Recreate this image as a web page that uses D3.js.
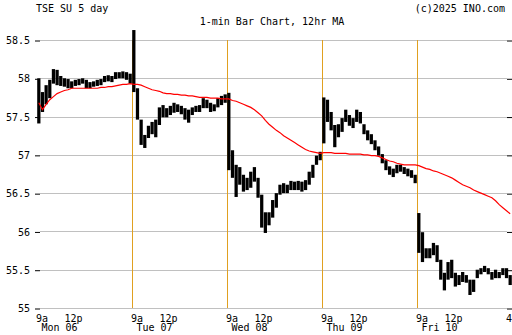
<!DOCTYPE html>
<html>
<head>
<meta charset="utf-8">
<script src="https://cdn.jsdelivr.net/npm/d3@7"></script>
<style>
  body { margin: 0; background: #fff; }
  svg { display: block; }
  text { font-family: "DejaVu Sans Mono", monospace; font-size: 10px; fill: #000; }
</style>
</head>
<body>
<svg width="512" height="335"></svg>
<script>
// Data: 15-minute bars, 26 per session (9:30 - 16:00)
const days = ["Mon 06", "Tue 07", "Wed 08", "Thu 09", "Fri 10"];
const hourLabels = ["9a", "12p"];
const yTicks = [55, 55.5, 56, 56.5, 57, 57.5, 58, 58.5];

const hiVals = [
  // Mon
  58.00, 57.82, 57.91, 57.98, 58.12, 58.11, 58.03, 58.00, 57.99, 57.96, 57.98, 57.99, 58.00,
  57.98, 57.95, 57.96, 57.98, 57.99, 58.03, 58.04, 58.03, 58.08, 58.08, 58.09, 58.08, 58.06,
  // Tue
  58.63, 57.87, 57.46, 57.26, 57.38, 57.43, 57.46, 57.62, 57.65, 57.61, 57.64, 57.68, 57.66,
  57.64, 57.61, 57.59, 57.62, 57.64, 57.65, 57.74, 57.72, 57.68, 57.66, 57.74, 57.77, 57.79,
  // Wed
  57.81, 57.06, 56.87, 56.84, 56.74, 56.70, 56.78, 56.84, 56.70, 56.48, 56.25, 56.25, 56.41,
  56.50, 56.61, 56.63, 56.61, 56.66, 56.65, 56.66, 56.65, 56.67, 56.78, 56.87, 56.99, 57.04,
  // Thu
  57.75, 57.72, 57.56, 57.39, 57.40, 57.48, 57.59, 57.52, 57.48, 57.59, 57.56, 57.40, 57.32,
  57.27, 57.19, 57.11, 57.01, 56.93, 56.85, 56.82, 56.87, 56.87, 56.84, 56.82, 56.80, 56.74,
  // Fri
  56.24, 55.99, 55.78, 55.78, 55.85, 55.82, 55.63, 55.46, 55.60, 55.63, 55.46, 55.43, 55.47,
  55.43, 55.37, 55.37, 55.50, 55.52, 55.55, 55.52, 55.47, 55.50, 55.47, 55.52, 55.52, 55.43
];

const loVals = [
  // Mon
  57.41, 57.56, 57.66, 57.74, 57.93, 57.91, 57.90, 57.89, 57.87, 57.87, 57.90, 57.91, 57.93,
  57.87, 57.87, 57.89, 57.90, 57.91, 57.95, 57.96, 57.95, 57.99, 58.00, 58.00, 57.98, 57.93,
  // Tue
  57.82, 57.46, 57.13, 57.09, 57.22, 57.27, 57.23, 57.39, 57.49, 57.49, 57.52, 57.55, 57.56,
  57.53, 57.46, 57.42, 57.52, 57.56, 57.56, 57.61, 57.61, 57.56, 57.57, 57.62, 57.65, 57.68,
  // Wed
  56.80, 56.70, 56.45, 56.61, 56.52, 56.54, 56.57, 56.65, 56.44, 56.05, 55.98, 56.08, 56.18,
  56.31, 56.48, 56.50, 56.50, 56.54, 56.54, 56.54, 56.52, 56.54, 56.61, 56.70, 56.87, 56.93,
  // Thu
  57.15, 57.43, 57.32, 57.10, 57.23, 57.30, 57.43, 57.38, 57.35, 57.43, 57.41, 57.27, 57.19,
  57.14, 57.06, 56.99, 56.89, 56.80, 56.74, 56.71, 56.76, 56.78, 56.75, 56.72, 56.70, 56.63,
  // Fri
  55.72, 55.60, 55.65, 55.65, 55.69, 55.60, 55.37, 55.23, 55.37, 55.39, 55.28, 55.30, 55.34,
  55.33, 55.17, 55.21, 55.39, 55.44, 55.47, 55.44, 55.37, 55.39, 55.39, 55.43, 55.39, 55.30
];

// 12hr moving average, one value per bar
const maVals = [
  // Mon
  57.68, 57.59, 57.66, 57.72, 57.76, 57.80, 57.82, 57.84, 57.85, 57.87, 57.87, 57.87, 57.87,
  57.87, 57.87, 57.87, 57.87, 57.88, 57.88, 57.89, 57.89, 57.90, 57.91, 57.92, 57.92, 57.93,
  // Tue
  57.92, 57.92, 57.91, 57.89, 57.87, 57.85, 57.84, 57.83, 57.81, 57.80, 57.80, 57.79, 57.79,
  57.78, 57.78, 57.77, 57.77, 57.76, 57.75, 57.75, 57.75, 57.74, 57.74, 57.74, 57.73, 57.73,
  // Wed
  57.73, 57.71, 57.70, 57.68, 57.66, 57.64, 57.62, 57.59, 57.55, 57.51, 57.45, 57.40, 57.36,
  57.32, 57.29, 57.25, 57.22, 57.19, 57.16, 57.13, 57.10, 57.07, 57.05, 57.04, 57.03, 57.02,
  // Thu
  57.03, 57.03, 57.03, 57.02, 57.02, 57.02, 57.02, 57.01, 57.01, 57.01, 57.01, 57.00, 57.00,
  56.99, 56.99, 56.98, 56.96, 56.94, 56.92, 56.91, 56.89, 56.88, 56.87, 56.87, 56.87, 56.87,
  // Fri
  56.86, 56.84, 56.82, 56.81, 56.79, 56.78, 56.76, 56.74, 56.72, 56.70, 56.67, 56.64, 56.61,
  56.59, 56.57, 56.54, 56.52, 56.50, 56.48, 56.46, 56.44, 56.40, 56.35, 56.31, 56.27, 56.23
];

const barsPerDay = 26;
const noonBar = 10; // 12:00 is 10 bars after 9:30

const svg = d3.select("svg");

const x = d3.scaleLinear()
  .domain([0, days.length * barsPerDay])
  .range([37, 512]);

const y = d3.scaleLinear()
  .domain([55, 58.5])
  .range([308, 40]);

// Header
svg.append("text").attr("x", 36).attr("y", 12).text("TSE SU 5 day");
svg.append("text").attr("x", 505).attr("y", 12).attr("text-anchor", "end").text("(c)2025 INO.com");
svg.append("text").attr("x", 272).attr("y", 25).attr("text-anchor", "middle").text("1-min Bar Chart, 12hr MA");

// Horizontal grid
svg.append("g")
  .selectAll("line")
  .data(yTicks)
  .join("line")
  .attr("x1", 40).attr("x2", 507)
  .attr("y1", d => Math.round(y(d)) + 0.5)
  .attr("y2", d => Math.round(y(d)) + 0.5)
  .attr("stroke", "#c0c0c0");

// Day separators
svg.append("g")
  .selectAll("line")
  .data(days.slice(1))
  .join("line")
  .attr("x1", (d, i) => Math.round(x((i + 1) * barsPerDay)) + 0.5)
  .attr("x2", (d, i) => Math.round(x((i + 1) * barsPerDay)) + 0.5)
  .attr("y1", y(58.5))
  .attr("y2", y(55))
  .attr("stroke", "#e0a020");

// Y axes
const yLeft = svg.append("g")
  .attr("transform", "translate(40,0.5)")
  .call(d3.axisLeft(y).tickValues(yTicks).tickSize(5).tickPadding(5).tickFormat(d => String(d)));
yLeft.select(".domain").remove();
yLeft.selectAll("text").style("font-family", "DejaVu Sans Mono").style("font-size", "10px");

const yRight = svg.append("g")
  .attr("transform", "translate(507,0.5)")
  .call(d3.axisRight(y).tickValues(yTicks).tickSize(5).tickFormat(""));
yRight.select(".domain").remove();

// X labels
const xLab = svg.append("g");
days.forEach((day, i) => {
  const t0 = i * barsPerDay;
  xLab.append("text").attr("x", x(t0) - 1).attr("y", 322).text(hourLabels[0]);
  xLab.append("text").attr("x", x(t0 + noonBar)).attr("y", 322).attr("text-anchor", "middle").text(hourLabels[1]);
  xLab.append("text").attr("x", x(t0) + 4.5).attr("y", 331).text(day);
});
xLab.append("text").attr("x", x(days.length * barsPerDay)).attr("y", 322).attr("text-anchor", "middle").text("4p");

// Price bars
const step = x(1) - x(0);
svg.append("g")
  .selectAll("rect")
  .data(hiVals)
  .join("rect")
  .attr("x", (d, i) => x(i) + 0.2)
  .attr("width", step - 0.4)
  .attr("y", d => y(d))
  .attr("height", (d, i) => Math.max(1, y(loVals[i]) - y(d)))
  .attr("fill", "#000");

// Moving average
const line = d3.line()
  .x((d, i) => x(i + 0.5))
  .y(d => y(d));

svg.append("path")
  .datum(maVals)
  .attr("d", line)
  .attr("fill", "none")
  .attr("stroke", "#ff0000")
  .attr("stroke-width", 1.2);
</script>
</body>
</html>
